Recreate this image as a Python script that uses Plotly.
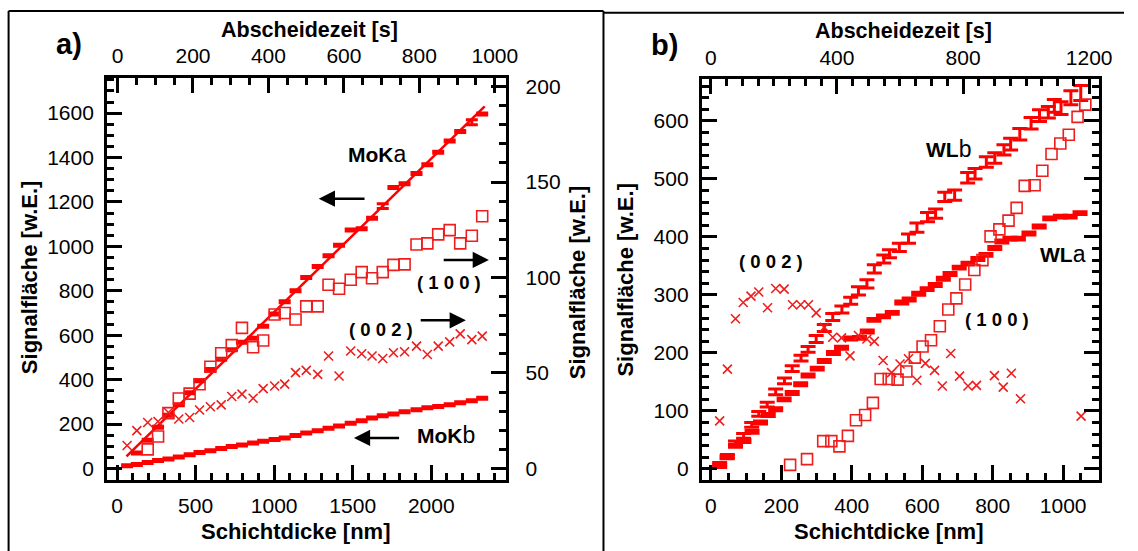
import plotly.graph_objects as go

W, H = 1138, 551
FONT = "Liberation Sans, Arial, sans-serif"
RED = "#ff0000"
SQ = "rgb(238,30,30)"

# ---------------- Panel a) : Mo ----------------
a_thick = [64, 126, 195, 261, 327, 393, 462, 525, 594, 663, 730, 795, 866, 930, 1003, 1067, 1136,
           1204, 1277, 1346, 1413, 1487, 1557, 1623, 1691, 1759, 1830, 1906, 1975, 2044, 2117,
           2184, 2258, 2324]
moka_thick = a_thick[1:]
moka = [70, 127, 186, 240, 287, 341, 395, 445, 492, 535, 568, 586, 640, 696, 751, 800, 860, 909,
        958, 1005, 1074, 1079, 1127, 1181, 1265, 1282, 1328, 1368, 1424, 1475, 1517, 1559, 1596]
moka_err = [4.5, 4.5, 4.5, 4.5, 4.5, 4.5, 4.5, 4.5, 4.5, 4.5, 4.5, 4.5, 4.5, 4.5, 4.5, 4.5, 4.5,
            4.5, 4.5, 4.5, 4.5, 4.5, 4.5, 11, 4.5, 4.5, 4.5, 4.5, 4.5, 4.5, 4.5, 11, 4.5]
mokb = [12, 18, 27, 36, 43, 52, 62, 72, 80, 90, 99, 106, 114, 122, 130, 137, 148, 160, 170, 181,
        191, 204, 215, 227, 237, 245, 255, 264, 273, 279, 287, 296, 305, 316]
mokb_err = [4.5, 4.5, 4.5, 4.5, 4.5, 4.5, 4.5, 4.5, 4.5, 4.5, 4.5, 4.5, 4.5, 4.5, 4.5, 4.5, 4.5,
            4.5, 4.5, 4.5, 4.5, 4.5, 4.5, 4.5, 4.5, 4.5, 4.5, 4.5, 4.5, 4.5, 4.5, 4.5, 4.5, 4.5]
moka_fit_x = [60, 2340]
moka_fit_y = [54, 1630]
a100_thick = a_thick[2:]
a100 = [10, 16.7, 29, 36.6, 39.2, 44.1, 53.3, 60.3, 64.6, 73.6, 63.5, 67, 80.6, 81.4, 78, 84.9,
        84.9, 96.2, 94.1, 98.8, 102.8, 99.6, 102.8, 106.6, 106.9, 117.3, 117.9, 122.6, 124.8,
        117.9, 121.9, 132.1]
a002 = [12, 19.8, 24.1, 24.6, 29.3, 25.9, 26.7, 30.6, 32.3, 33.3, 37.7, 38.9, 36.8, 41.8, 43.2,
        44.2, 50.2, 51.4, 49.3, 58.9, 48.4, 61.5, 60.1, 58.9, 57.6, 60.6, 61.1, 64.1, 59.7, 64.1,
        66.3, 70.5, 67.5, 69.3]

# ---------------- Panel b) : W ----------------
wlb_thick = [25, 47, 70, 93, 116, 136, 160, 184, 209, 231, 256, 276, 299, 322, 346, 372, 397, 419,
             443, 464, 491, 507, 535, 561, 585, 615, 638, 664, 692, 729, 750, 782, 806, 832, 851,
             877, 909, 933, 958, 975, 994, 1022, 1050]
wlb = [8, 22, 45, 57, 76, 95, 111, 133, 152, 173, 191, 206, 224, 243, 262, 275, 290, 307, 319, 345,
       362, 371, 382, 397, 416, 434, 440, 469, 472, 502, 509, 529, 536, 550, 560, 577, 596, 609,
       615, 626, 622, 640, 648]
wlb_err = [3, 3, 3, 4, 4, 4, 4, 5, 5, 5, 5, 5, 6, 6, 6, 6, 6, 7, 7, 7, 7, 7, 7, 8, 8, 8, 8, 8, 9,
           9, 9, 9, 9, 9, 10, 10, 10, 10, 10, 11, 11, 12, 13]
wla_thick = [25, 46, 70, 94, 117, 141, 163, 184, 208, 231, 255, 276, 302, 322, 348, 371, 397, 422,
             444, 463, 490, 515, 542, 563, 590, 614, 637, 660, 679, 705, 730, 758, 781, 806, 826,
             849, 873, 903, 932, 962, 992, 1020, 1048]
wla = [5, 20, 40, 48, 64, 80, 93, 103, 120, 131, 146, 161, 173, 186, 200, 209, 225, 226, 237, 257,
       263, 269, 287, 292, 302, 310, 317, 328, 336, 347, 354, 362, 369, 381, 392, 397, 397, 406,
       418, 432, 435, 435, 441]
wla_err = [2.5, 2.5, 2.5, 2.5, 2.5, 2.5, 2.5, 2.5, 2.5, 2.5, 2.5, 2.5, 2.5, 2.5, 2.5, 2.5, 2.5,
           2.5, 2.5, 2.5, 2.5, 2.5, 2.5, 2.5, 2.5, 2.5, 2.5, 2.5, 2.5, 2.5, 2.5, 2.5, 2.5, 2.5,
           2.5, 2.5, 2.5, 2.5, 2.5, 2.5, 2.5, 2.5, 2.5]
b002_thick = [25, 47, 70, 92, 114, 136, 161, 184, 208, 232, 255, 277, 299, 322, 346, 371, 395, 419,
              443, 464, 489, 513, 537, 561, 585, 609, 635, 657, 681, 706, 730, 754, 805, 830, 853,
              879, 1051]
b002 = [83, 172, 259, 287, 298, 305, 278, 311, 310, 283, 283, 283, 269, 244, 227, 226, 195, 230,
        224, 220, 187, 166, 181, 190, 153, 182, 170, 143, 199, 160, 143, 144, 161, 141, 165, 121, 91]
b100_thick = [225, 273, 319, 342, 365, 389, 412, 438, 460, 482, 505, 530, 555, 579, 601, 625, 650,
              674, 697, 722, 748, 771, 794, 819, 845, 868, 891, 919, 941, 967, 992, 1016, 1041, 1063]
b100 = [7, 17, 48, 48, 39, 57, 84, 93, 114, 155, 155, 154, 168, 192, 211, 222, 246, 275, 294, 318,
        343, 360, 401, 413, 428, 450, 488, 489, 514, 543, 561, 576, 607, 628]


def px(x):
    return x / W


def py(y):
    return 1 - y / H


fig = go.Figure()


def errbars(x, y, err, xa, ya, w, th):
    return go.Scatter(x=x, y=y, xaxis=xa, yaxis=ya, mode="markers",
                      marker=dict(size=1, color=RED),
                      error_y=dict(type="data", array=err, symmetric=True, color=RED,
                                   thickness=th, width=w),
                      showlegend=False, hoverinfo="skip")


def helper(xa, ya):
    # empty trace so that the secondary (top / right) axes get drawn
    return go.Scatter(x=[None], y=[None], xaxis=xa, yaxis=ya, mode="markers",
                      showlegend=False, hoverinfo="skip")


SQ_MARK = dict(symbol="square-open", size=11, color=SQ, line=dict(width=1.6))
X_MARK = dict(symbol="x-thin-open", size=9, color=SQ, line=dict(width=1.6, color=SQ))

# panel a traces
fig.add_trace(go.Scatter(x=moka_fit_x, y=moka_fit_y, xaxis="x", yaxis="y", mode="lines",
                         line=dict(color=RED, width=2.5), showlegend=False))
fig.add_trace(errbars(moka_thick, moka, moka_err, "x", "y", 6, 3))
fig.add_trace(errbars(a_thick, mokb, mokb_err, "x", "y", 6, 3))
fig.add_trace(go.Scatter(x=a100_thick, y=a100, xaxis="x", yaxis="y2", mode="markers",
                         marker=SQ_MARK, showlegend=False))
fig.add_trace(go.Scatter(x=a_thick, y=a002, xaxis="x", yaxis="y2", mode="markers",
                         marker=X_MARK, showlegend=False))
fig.add_trace(helper("x2", "y"))

# panel b traces
fig.add_trace(errbars(wlb_thick, wlb, wlb_err, "x3", "y3", 7.5, 3))
fig.add_trace(errbars(wla_thick, wla, wla_err, "x3", "y3", 7.5, 3))
fig.add_trace(go.Scatter(x=b100_thick, y=b100, xaxis="x3", yaxis="y3", mode="markers",
                         marker=SQ_MARK, showlegend=False))
fig.add_trace(go.Scatter(x=b002_thick, y=b002, xaxis="x3", yaxis="y3", mode="markers",
                         marker=X_MARK, showlegend=False))
fig.add_trace(helper("x4", "y3"))
fig.add_trace(helper("x3", "y4"))

TICKFONT = dict(family=FONT, size=21, color="black")


def ax(**kw):
    d = dict(showline=True, linecolor="black", linewidth=3, ticks="inside", ticklen=15,
             tickwidth=2.5, tickcolor="black", showgrid=False, zeroline=False,
             tickfont=TICKFONT, tick0=0, fixedrange=True, autorange=False)
    d.update(kw)
    return d


def minor(d):
    return dict(dtick=d, tick0=0, ticks="inside", ticklen=7, tickwidth=2.5, tickcolor="black",
                showgrid=False)


ya_dom = [py(479.6), py(75)]
yb_dom = [py(479.6), py(76.6)]

fig.update_layout(
    width=W, height=H, margin=dict(l=0, r=0, t=0, b=0),
    paper_bgcolor="white", plot_bgcolor="white", showlegend=False,
    xaxis=ax(domain=[px(108.4), px(512.7)], anchor="y", range=[-63.5, 2478], dtick=500,
             minor=minor(100), ticklabelstandoff=5),
    xaxis2=ax(overlaying="x", side="top", anchor="y", range=[-27.7, 1030.6], dtick=200,
              minor=minor(50), ticklabelstandoff=3),
    yaxis=ax(domain=ya_dom, anchor="x", range=[-52, 1760], dtick=200, minor=minor(50),
             ticklabelstandoff=6),
    yaxis2=ax(overlaying="y", side="right", anchor="x", range=[-6.04, 204.7], dtick=50,
              minor=minor(10), ticklabelstandoff=12),
    xaxis3=ax(domain=[px(710.6), px(1112.4)], anchor="y3", range=[-25.5, 1101], dtick=200,
              minor=minor(50), ticklabelstandoff=5),
    xaxis4=ax(overlaying="x3", side="top", anchor="y3", range=[-28.2, 1230.2], dtick=400,
              minor=minor(50), ticklabelstandoff=3),
    yaxis3=ax(domain=yb_dom, anchor="x3", range=[-19, 671.9], dtick=100, minor=minor(20),
              ticklabelstandoff=6),
    yaxis4=ax(overlaying="y3", side="right", anchor="x3", range=[-19, 671.9], dtick=100,
              minor=minor(20), showticklabels=False),
)

ann = []


def text(x, y, t, size=22, angle=0):
    ann.append(dict(x=px(x), y=py(y), xref="paper", yref="paper", text=t, showarrow=False,
                    textangle=angle, xanchor="center", yanchor="middle",
                    font=dict(family=FONT, size=size, color="black")))


def arrow(tipx, tipy, tailx):
    ann.append(dict(x=px(tipx), y=py(tipy), xref="paper", yref="paper", text="",
                    showarrow=True, ax=tailx - tipx, ay=0, arrowhead=2, arrowsize=1.3,
                    arrowwidth=2.5, arrowcolor="black", standoff=0, startstandoff=0))


GREEK = "<span style='font-size:23px'>%s</span>"

# axis titles
text(299, 531, "<b>Schichtdicke [nm]</b>")
text(313.6, 27, "<b>Abscheidezeit [s]</b>", size=21.5)
text(30, 276, "<b>Signalfläche [w.E.]</b>", angle=-90)
text(585, 281, "<b>Signalfläche [w.E.]</b>", angle=-90)
text(900, 531, "<b>Schichtdicke [nm]</b>")
text(915, 28.5, "<b>Abscheidezeit [s]</b>", size=21.5)
text(633.4, 278.5, "<b>Signalfläche [w.E.]</b>", angle=-90)

# panel labels
text(70, 41, "<b>a)</b>", size=29)
text(673, 42, "<b>b)</b>", size=29)

# panel a annotations
text(381.7, 152, "<b>MoK</b>" + GREEK % "a", size=21)
text(452, 434.5, "<b>MoK</b>" + GREEK % "b", size=21)
text(454.5, 281, "<b>( 1 0 0 )</b>", size=18.5)
text(386, 328.3, "<b>( 0 0 2 )</b>", size=18.5)
arrow(322.7, 196.7, 370)
arrow(495, 258.3, 448.3)
arrow(471.7, 319, 425)
arrow(358.3, 437.3, 405)

# panel b annotations
text(960, 147, "<b>WL</b>" + GREEK % "b", size=21)
text(1076, 252.5, "<b>WL</b>" + GREEK % "a", size=21)
text(781, 260, "<b>( 0 0 2 )</b>", size=18.5)
text(1009, 318.3, "<b>( 1 0 0 )</b>", size=18.5)

fig.update_layout(annotations=ann)

# outer frames
shapes = []
for (x0, y0, x1, y1) in [(8.7, 8, 611, 8), (8.7, 8, 8.7, 551), (611, 8, 611, 551),
                         (611, 9.8, 1138, 9.8)]:
    shapes.append(dict(type="line", xref="paper", yref="paper", x0=px(x0), y0=py(y0),
                       x1=px(x1), y1=py(y1), line=dict(color="black", width=2)))
fig.update_layout(shapes=shapes)

fig.write_html("out.html")
